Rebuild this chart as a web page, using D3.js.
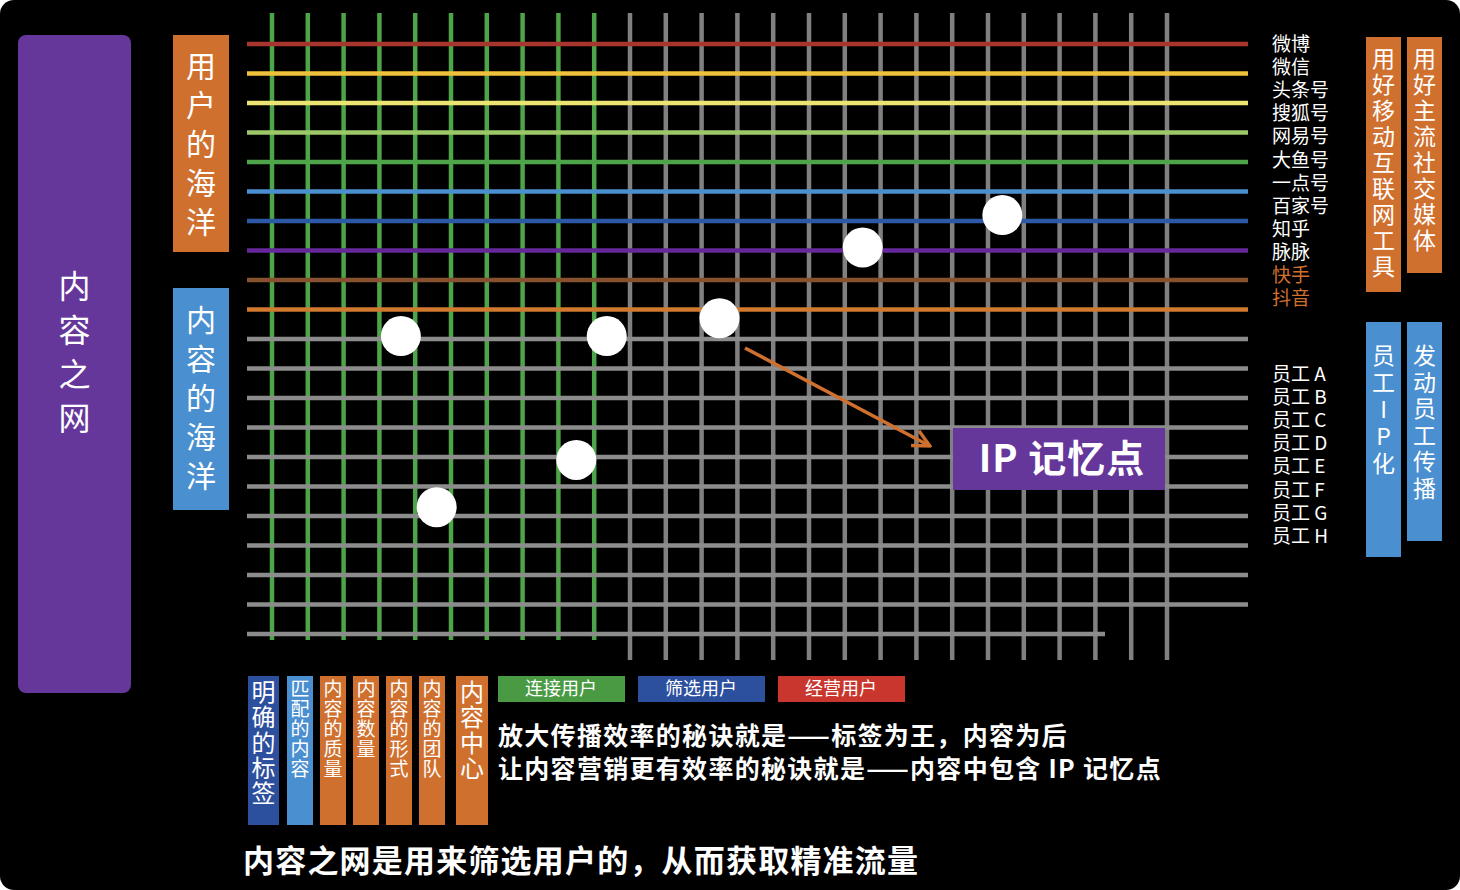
<!DOCTYPE html>
<html><head><meta charset="utf-8">
<script src="https://cdn.jsdelivr.net/npm/d3@7"></script>
<style>body{margin:0;background:#fff}svg{display:block}</style>
</head><body>
<svg id="chart" width="1460" height="890"></svg>
<script>
// Row lines (platforms, then staff rows), column lines, dots
const rowColors = ["#a8362f", "#f0c23c", "#ece472", "#9cc868", "#4ea448", "#4a8fd0", "#2d58a6", "#65279a", "#87502f", "#d0792f",
  "#8c8c8c", "#8c8c8c", "#8c8c8c", "#8c8c8c", "#8c8c8c", "#8c8c8c", "#8c8c8c", "#8c8c8c", "#8c8c8c", "#8c8c8c", "#8c8c8c"];
const columnCount = 26;
const greenColumns = 10;
const platforms = ["微博", "微信", "头条号", "搜狐号", "网易号", "大鱼号", "一点号", "百家号", "知乎", "脉脉", "快手", "抖音"];
const staff = ["员工 A", "员工 B", "员工 C", "员工 D", "员工 E", "员工 F", "员工 G", "员工 H"];
const dots = [[3.6, 9.9], [9.35, 9.9], [12.5, 9.3], [16.5, 6.9], [20.4, 5.8], [8.5, 14.1], [4.6, 15.7]];
const bottomBoxes = [
  {t: "明确的标签", c: "#2c4f9e", w: 31, fs: 24},
  {t: "匹配的内容", c: "#4a8fd0", w: 26, fs: 19},
  {t: "内容的质量", c: "#d0702f", w: 26, fs: 19},
  {t: "内容数量", c: "#d0702f", w: 26, fs: 19},
  {t: "内容的形式", c: "#d0702f", w: 26, fs: 19},
  {t: "内容的团队", c: "#d0702f", w: 26, fs: 19},
  {t: "内容中心", c: "#d0702f", w: 32, fs: 24}
];
const bottomBoxX = [248, 287, 320, 353, 386, 419, 456];
const tags = [{t: "连接用户", c: "#4a9a44"}, {t: "筛选用户", c: "#2c4f9e"}, {t: "经营用户", c: "#c8362e"}];

const svg = d3.select("#chart");
const font = "'Noto Sans CJK SC', sans-serif";
svg.append("rect").attr("width", 1460).attr("height", 890).attr("rx", 14).attr("fill", "#000");

const x = d3.scaleLinear().domain([0, columnCount - 1]).range([272, 1167]);
const y = d3.scaleLinear().domain([0, rowColors.length - 1]).range([44, 634]);

// vertical lines
const g = svg.append("g");
g.selectAll("line.v").data(d3.range(columnCount)).join("line")
  .attr("x1", d => x(d)).attr("x2", d => x(d))
  .attr("y1", 13).attr("y2", d => d < greenColumns ? 640 : 660)
  .attr("stroke", d => d < greenColumns ? "#4ea448" : "#808080").attr("stroke-width", 4.5);
// horizontal lines
g.selectAll("line.h").data(rowColors).join("line")
  .attr("x1", 247).attr("x2", (d, i) => i === rowColors.length - 1 ? 1105 : 1248)
  .attr("y1", (d, i) => y(i)).attr("y2", (d, i) => y(i))
  .attr("stroke", d => d).attr("stroke-width", 4.5);

// arrow
svg.append("defs").append("marker").attr("id", "ah").attr("viewBox", "0 0 10 10")
  .attr("refX", 8).attr("refY", 5).attr("markerWidth", 6).attr("markerHeight", 6).attr("orient", "auto")
  .append("path").attr("d", "M1,1 L9,5 L1,9").attr("fill", "none").attr("stroke", "#d0702f").attr("stroke-width", 1.6);
svg.append("line").attr("x1", 745).attr("y1", 348).attr("x2", 928).attr("y2", 445)
  .attr("stroke", "#d0702f").attr("stroke-width", 3.5).attr("marker-end", "url(#ah)");

svg.selectAll("circle.dot").data(dots).join("circle")
  .attr("cx", d => x(d[0])).attr("cy", d => y(d[1])).attr("r", 20).attr("fill", "#fff");

// IP box
svg.append("rect").attr("x", 953).attr("y", 428).attr("width", 212).attr("height", 62).attr("fill", "#66379a");
svg.append("text").attr("x", 1062).attr("y", 472).attr("text-anchor", "middle").attr("fill", "#fff")
  .attr("font-family", font).attr("font-weight", 700).attr("font-size", 38).attr("letter-spacing", 1).text("IP 记忆点");

// vertical text helper (top is relative to box top)
function vbox(x0, y0, w, h, color, text, fs, rx, top, step) {
  svg.append("rect").attr("x", x0).attr("y", y0).attr("width", w).attr("height", h).attr("rx", rx).attr("fill", color);
  const t = svg.append("text").attr("fill", "#fff").attr("font-family", font).attr("font-size", fs).attr("text-anchor", "middle");
  Array.from(text).forEach((ch, i) => {
    t.append("tspan").attr("x", x0 + w / 2).attr("y", y0 + top + i * step).text(ch);
  });
}
vbox(18, 35, 113, 658, "#66379a", "内容之网", 32, 8, 263, 44);
vbox(173, 35, 56, 217, "#d0702f", "用户的海洋", 30, 0, 42, 39);
vbox(173, 288, 56, 222, "#4a8fd0", "内容的海洋", 30, 0, 43, 39);
vbox(1366, 37, 35, 255, "#d0702f", "用好移动互联网工具", 23, 0, 30, 26);
vbox(1407, 37, 35, 236, "#d0702f", "用好主流社交媒体", 23, 0, 30, 26);
vbox(1366, 322, 35, 235, "#4a8fd0", "员工IP化", 23, 0, 42, 27);
vbox(1407, 322, 35, 219, "#4a8fd0", "发动员工传播", 23, 0, 42, 26.5);
bottomBoxes.forEach((b, i) => vbox(bottomBoxX[i], 676, b.w, 149, b.c, b.t, b.fs, 0, b.fs * 1.05, b.fs * 1.05));

// right labels
svg.selectAll("text.pf").data(platforms).join("text")
  .attr("x", 1272).attr("y", (d, i) => 51 + i * 23.1).attr("font-family", font).attr("font-size", 19)
  .attr("fill", (d, i) => i >= 10 ? "#d0702f" : "#fff").text(d => d);
svg.selectAll("text.st").data(staff).join("text")
  .attr("x", 1272).attr("y", (d, i) => 381 + i * 23.1).attr("font-family", font).attr("font-size", 19)
  .attr("fill", "#fff").text(d => d);

// tags
tags.forEach((d, i) => {
  svg.append("rect").attr("x", 498 + i * 140).attr("y", 676).attr("width", 127).attr("height", 26).attr("fill", d.c);
  svg.append("text").attr("x", 561 + i * 140).attr("y", 695).attr("text-anchor", "middle").attr("fill", "#fff")
    .attr("font-family", font).attr("font-size", 18).text(d.t);
});

svg.append("text").attr("x", 498).attr("y", 745).attr("fill", "#fff").attr("font-family", font).attr("font-weight", 700)
  .attr("font-size", 25).attr("letter-spacing", 1.3).text("放大传播效率的秘诀就是——标签为王，内容为后");
svg.append("text").attr("x", 498).attr("y", 778).attr("fill", "#fff").attr("font-family", font).attr("font-weight", 700)
  .attr("font-size", 25).attr("letter-spacing", 1.3).text("让内容营销更有效率的秘诀就是——内容中包含 IP 记忆点");
svg.append("text").attr("x", 243).attr("y", 872).attr("fill", "#fff").attr("font-family", font).attr("font-weight", 700)
  .attr("font-size", 31).attr("letter-spacing", 1.2).text("内容之网是用来筛选用户的，从而获取精准流量");
</script>
</body></html>
